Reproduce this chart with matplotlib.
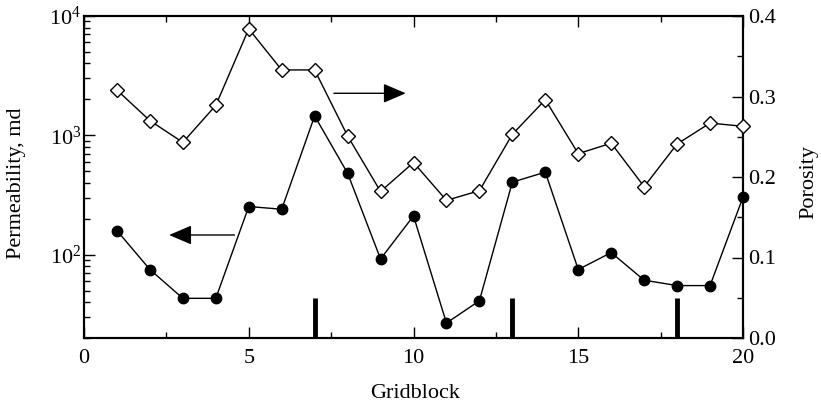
import matplotlib.pyplot as plt
from matplotlib.ticker import FixedLocator, MultipleLocator, NullFormatter
import numpy as np

plt.rcParams['font.family'] = 'Liberation Serif'
plt.rcParams['mathtext.fontset'] = 'custom'
plt.rcParams['mathtext.rm'] = 'Liberation Serif'

gridblock = np.arange(1, 21)
permeability = [159, 75, 43, 43, 253, 240, 1454, 481, 92, 211,
                26.7, 41, 405, 491, 75, 104, 61, 55, 55, 303]
porosity = [0.308, 0.270, 0.243, 0.289, 0.384, 0.333, 0.333, 0.251, 0.182, 0.218,
            0.171, 0.183, 0.253, 0.296, 0.229, 0.242, 0.188, 0.241, 0.267, 0.263]
well_blocks = [7, 13, 18]
well_height = 0.05

fig = plt.figure(figsize=(8.21, 4.12), dpi=100)
ax = fig.add_axes([84 / 821, 1 - 338 / 412, 659 / 821, 322 / 412])
ax2 = ax.twinx()

# permeability on the log axis
ax.plot(gridblock, permeability, color='black', lw=1.0, marker='o',
        ms=7.5, mfc='black', mec='black', zorder=3, clip_on=False)
ax.set_yscale('log')
ax.set_ylim(20, 1e4)
ax.set_xlim(0, 20)

# porosity on the right axis
ax2.plot(gridblock, porosity, color='black', lw=1.0, marker='D',
         ms=7, mfc='white', mec='black', mew=1.0, zorder=3, clip_on=False)
ax2.vlines(well_blocks, 0, well_height, color='black', lw=3.5)
ax2.set_ylim(0, 0.4)

# arrows pointing to each series' axis
head = '-|>,head_length=1.4,head_width=0.6'
ax.annotate('', xy=(2.5, 146), xytext=(4.65, 146),
            arrowprops=dict(arrowstyle=head, color='black', lw=1.0))
ax2.annotate('', xy=(9.85, 0.304), xytext=(7.5, 0.304),
             arrowprops=dict(arrowstyle=head, color='black', lw=1.0))

fs = 16
ax.set_yticks([1e2, 1e3, 1e4])
ax.set_yticklabels([r'$\mathregular{10^{2}}$', r'$\mathregular{10^{3}}$',
                    r'$\mathregular{10^{4}}$'], fontsize=fs)
ax.yaxis.set_minor_locator(FixedLocator(
    [m * 10 ** e for e in (1, 2, 3) for m in range(2, 10) if 20 <= m * 10 ** e <= 1e4]))
ax.yaxis.set_minor_formatter(NullFormatter())
ax.set_xticks([0, 5, 10, 15, 20])
ax.xaxis.set_minor_locator(MultipleLocator(2.5))
ax.tick_params(axis='x', which='both', direction='in', top=True, labelsize=fs, pad=8)
ax.tick_params(axis='x', which='major', length=8, width=1)
ax.tick_params(axis='x', which='minor', length=4, width=1)
ax.tick_params(axis='y', which='major', direction='in', length=8, width=1,
               labelsize=fs, right=False, pad=2)
ax.tick_params(axis='y', which='minor', direction='in', length=4, width=1, right=False)

ax2.set_yticks([0.0, 0.1, 0.2, 0.3, 0.4])
ax2.set_yticklabels(['0.0', '0.1', '0.2', '0.3', '0.4'], fontsize=fs)
ax2.yaxis.set_minor_locator(MultipleLocator(0.05))
ax2.tick_params(axis='y', which='major', direction='in', length=8, width=1, pad=4)
ax2.tick_params(axis='y', which='minor', direction='in', length=4, width=1)

for a in (ax, ax2):
    for s in a.spines.values():
        s.set_linewidth(1.5)

ax.set_xlabel('Gridblock', fontsize=fs)
ax.xaxis.set_label_coords(0.502, -0.143)
ax.set_ylabel('Permeability, md', fontsize=fs)
ax.yaxis.set_label_coords(-0.088, 0.481)
ax2.set_ylabel('Porosity', fontsize=fs)
ax2.yaxis.set_label_coords(1.086, 0.484)

fig.savefig('out.png', dpi=100)
